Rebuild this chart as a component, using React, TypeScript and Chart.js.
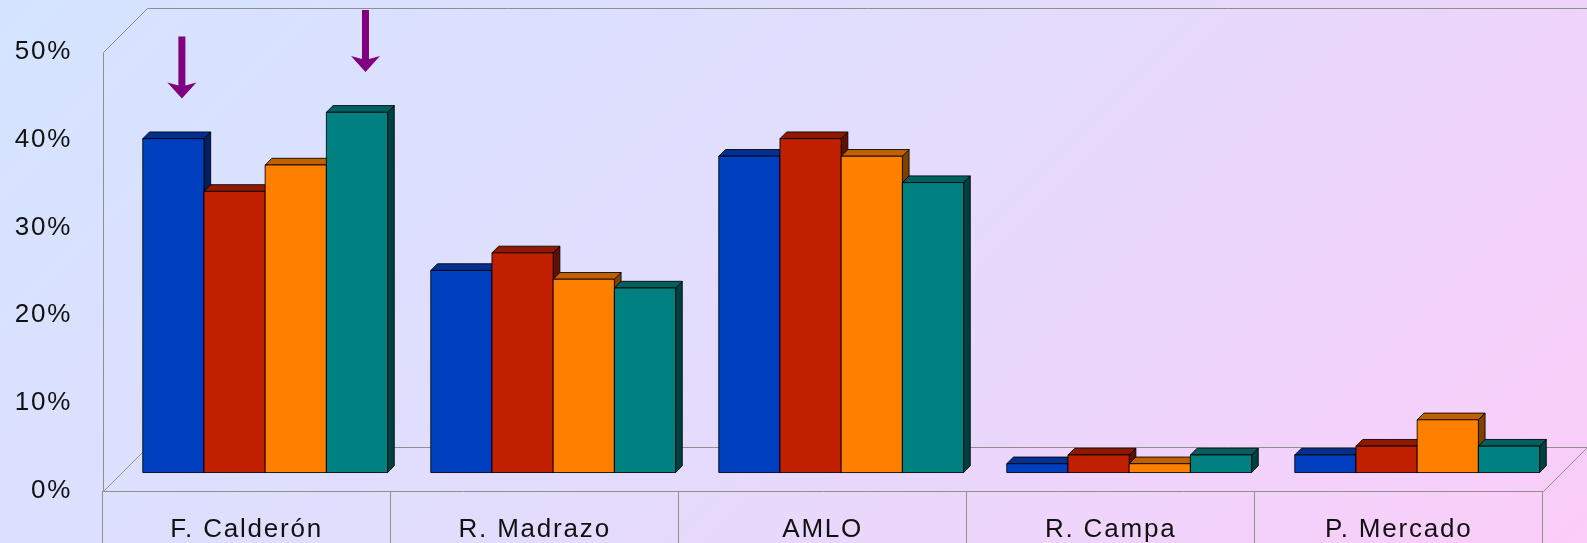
import React, { useEffect, useRef } from 'react';
import { Chart, registerables } from 'chart.js';

Chart.register(...registerables);

// ---- data ----
const categories = ['F. Calderón', 'R. Madrazo', 'AMLO', 'R. Campa', 'P. Mercado'];
const seriesA = [38, 23, 36, 1, 2];
const seriesB = [32, 25, 38, 2, 3];
const seriesC = [35, 22, 36, 1, 6];
const seriesD = [41, 21, 33, 2, 3];
const yTickValues = [0, 10, 20, 30, 40, 50];
// arrows marking bars: [series index, category index]
const arrowSeries = [0, 3];
const arrowCategory = [0, 0];

// ---- styles ----
const FRONT = ['#0040c0', '#c02000', '#ff8000', '#008080'];
const TOP = ['#003090', '#901800', '#c06000', '#006060'];
const SIDE = ['#002060', '#601000', '#804000', '#004040'];
const FONT = "'Liberation Sans', Arial, sans-serif";
const WALL_DEPTH = 44;
const BAR_PLANE = 0.42;
const BAR_DEPTH = 6.7;

const bgPlugin = {
  id: 'bg',
  beforeDraw(chart: any) {
    const ctx = chart.ctx as CanvasRenderingContext2D;
    const w = chart.width, h = chart.height;
    ctx.save();
    const g = ctx.createLinearGradient(0, 0, 1065, 1065);
    g.addColorStop(0, '#d4e4ff');
    g.addColorStop(0.5, '#e3dcfd');
    g.addColorStop(1, '#fbcdf9');
    ctx.fillStyle = g;
    ctx.fillRect(0, 0, w, h);
    ctx.restore();
    (ctx as any).letterSpacing = '1.8px';
  },
};

const px = (v: number) => Math.round(v) + 0.5;

const wallsPlugin = {
  id: 'walls',
  beforeDatasetsDraw(chart: any) {
    const ctx = chart.ctx as CanvasRenderingContext2D;
    const { left, right, top, bottom } = chart.chartArea;
    const D = WALL_DEPTH;
    const L = px(left), R = px(right), T = px(top), B = px(bottom);
    ctx.save();
    ctx.strokeStyle = '#8e8e8e';
    ctx.lineWidth = 1;
    const seg = (x1: number, y1: number, x2: number, y2: number) => {
      ctx.beginPath();
      ctx.moveTo(x1, y1);
      ctx.lineTo(x2, y2);
      ctx.stroke();
    };
    seg(L, T, L, B);
    seg(L, T, L + D, T - D);
    seg(L + D, T - D, R + D, T - D);
    seg(R + D, T - D, R + D, B - D);
    seg(L, B, L + D, B - D);
    seg(L + D, B - D, R + D, B - D);
    seg(L, B, R, B);
    seg(R, B, R + D, B - D);
    ctx.restore();
  },
};

const bars3dPlugin = {
  id: 'bars3d',
  afterDatasetsDraw(chart: any) {
    const ctx = chart.ctx as CanvasRenderingContext2D;
    const ox = WALL_DEPTH * BAR_PLANE;
    const oy = -WALL_DEPTH * BAR_PLANE;
    const d = BAR_DEPTH;
    const n = chart.data.labels.length;
    const nds = chart.data.datasets.length;
    ctx.save();
    ctx.lineWidth = 1;
    ctx.strokeStyle = 'rgba(0,0,0,0.85)';
    ctx.lineJoin = 'miter';
    for (let i = 0; i < n; i++) {
      for (let s = 0; s < nds; s++) {
        const el = chart.getDatasetMeta(s).data[i];
        if (!el) continue;
        const x0 = el.x - el.width / 2 + ox;
        const x1 = el.x + el.width / 2 + ox;
        const yt = el.y + oy;
        const yb = el.base + oy;
        // side
        ctx.beginPath();
        ctx.moveTo(x1, yt);
        ctx.lineTo(x1 + d, yt - d);
        ctx.lineTo(x1 + d, yb - d);
        ctx.lineTo(x1, yb);
        ctx.closePath();
        ctx.fillStyle = SIDE[s];
        ctx.fill();
        ctx.stroke();
        // top
        ctx.beginPath();
        ctx.moveTo(x0, yt);
        ctx.lineTo(x0 + d, yt - d);
        ctx.lineTo(x1 + d, yt - d);
        ctx.lineTo(x1, yt);
        ctx.closePath();
        ctx.fillStyle = TOP[s];
        ctx.fill();
        ctx.stroke();
        // front
        ctx.beginPath();
        ctx.rect(x0, yt, x1 - x0, yb - yt);
        ctx.fillStyle = FRONT[s];
        ctx.fill();
        ctx.stroke();
      }
    }
    // arrows
    ctx.fillStyle = '#800080';
    for (let k = 0; k < arrowSeries.length; k++) {
      const el = chart.getDatasetMeta(arrowSeries[k]).data[arrowCategory[k]];
      if (!el) continue;
      const cx = el.x + ox + 8.5;
      const tip = el.y + oy - d - 33.5;
      const headH = 15;
      const headW = 14.5;
      const shaftW = 3.5;
      const total = 62;
      ctx.beginPath();
      ctx.moveTo(cx - shaftW, tip - total);
      ctx.lineTo(cx + shaftW, tip - total);
      ctx.lineTo(cx + shaftW, tip - headH + 2);
      ctx.lineTo(cx + headW, tip - headH - 1);
      ctx.lineTo(cx, tip);
      ctx.lineTo(cx - headW, tip - headH - 1);
      ctx.lineTo(cx - shaftW, tip - headH + 2);
      ctx.closePath();
      ctx.fill();
    }
    ctx.restore();
  },
};

export default function App() {
  const ref = useRef<HTMLCanvasElement | null>(null);
  useEffect(() => {
    if (!ref.current) return;
    const mk = (label: string, data: number[]) => ({
      label,
      data,
      backgroundColor: 'rgba(0,0,0,0)',
      borderWidth: 0,
      categoryPercentage: 0.85,
      barPercentage: 1.0,
    });
    const chart = new Chart(ref.current, {
      type: 'bar',
      data: {
        labels: categories,
        datasets: [
          mk('Serie 1', seriesA),
          mk('Serie 2', seriesB),
          mk('Serie 3', seriesC),
          mk('Serie 4', seriesD),
        ] as any,
      },
      options: {
        animation: false,
        responsive: true,
        maintainAspectRatio: false,
        layout: { padding: { top: 51.7, right: 44.3, bottom: 0, left: 0 } },
        plugins: { legend: { display: false }, tooltip: { enabled: false } },
        scales: {
          x: {
            type: 'category',
            offset: true,
            grid: {
              display: true,
              drawOnChartArea: false,
              drawTicks: true,
              tickLength: 52,
              color: '#8e8e8e',
              lineWidth: 1,
              offset: true,
            },
            border: { display: false },
            ticks: {
              padding: -29,
              color: '#111',
              font: { family: FONT, size: 26 },
              maxRotation: 0,
              autoSkip: false,
            },
            afterFit: (s: any) => {
              s.height = 52;
            },
          },
          y: {
            min: 0,
            max: 50,
            grid: { display: false, drawTicks: false },
            border: { display: false },
            ticks: {
              padding: 30.5,
              color: '#111',
              font: { family: FONT, size: 26 },
              callback: (v: any) => v + '%',
            },
            afterBuildTicks: (s: any) => {
              s.ticks = yTickValues.map((v) => ({ value: v }));
            },
            afterFit: (s: any) => {
              s.width = 102.7;
            },
          },
        },
      },
      plugins: [bgPlugin, wallsPlugin, bars3dPlugin],
    } as any);
    return () => chart.destroy();
  }, []);
  return (
    <div style={{ position: 'fixed', left: 0, top: 0, width: 1587, height: 543 }}>
      <canvas ref={ref} />
    </div>
  );
}
